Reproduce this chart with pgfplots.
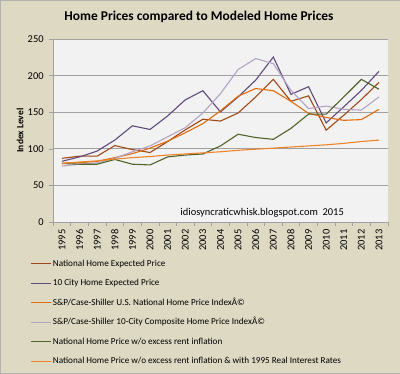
\documentclass[border=0pt]{standalone}
\usepackage{pgfplots}
\pgfplotsset{compat=1.18}
\usepackage{fontspec}
\setmainfont{Carlito}
\definecolor{bg}{RGB}{221,217,195}
\definecolor{plotbg}{RGB}{242,242,242}
\definecolor{gridc}{RGB}{160,160,160}
\definecolor{natexp}{RGB}{160,72,22}
\definecolor{cityexp}{RGB}{96,74,123}
\definecolor{spnat}{RGB}{228,108,10}
\definecolor{spcity}{RGB}{179,162,199}
\definecolor{greenc}{RGB}{79,98,40}
\definecolor{orange2}{RGB}{240,130,40}
\begin{document}
\begin{tikzpicture}
\fill[bg,draw=gray!60] (0,0) rectangle (400bp,373bp);
\node[font=\fontsize{13.5}{15}\selectfont\bfseries] at (199bp,356bp) {Home Prices compared to Modeled Home Prices};
\begin{axis}[
  at={(53bp,151bp)}, anchor=south west,
  width=335bp, height=183bp, scale only axis,
  xmin=-0.5, xmax=18.5, ymin=0, ymax=250,
  xtick={0,...,18},
  xticklabels={1995,1996,1997,1998,1999,2000,2001,2002,2003,2004,2005,2006,2007,2008,2009,2010,2011,2012,2013},
  minor xtick={-0.5,0.5,...,18.5},
  ytick={0,50,...,250},
  major x tick style={draw=none},
  tick align=outside,
  major tick length=4bp, minor tick length=4bp,
  tick style={gridc, line width=0.6pt},
  axis x line*=bottom, axis y line*=left,
  axis line style={gridc, line width=0.8pt},
  ymajorgrids, grid style={gridc, line width=0.8pt},
  axis background/.style={fill=plotbg},
  /pgf/number format/assume math mode=true,
  yticklabel style={font=\fontsize{10.5}{12}\selectfont, xshift=-2bp},
  xticklabel style={font=\fontsize{10.5}{12}\selectfont, rotate=90, anchor=east},
  ylabel={Index Level},
  every axis y label/.style={at={(axis description cs:-0.0985,0.5)}, rotate=90, anchor=center, font=\fontsize{9.5}{11}\selectfont\bfseries},
  legend style={at={(axis description cs:-0.0687,-0.195)}, anchor=north west, draw=none, fill=none,
     font=\fontsize{9.2}{10}\selectfont, row sep=7.5bp, inner sep=0pt,
     nodes={inner sep=1.5pt, text height=7bp, text depth=2bp}},
  legend cell align=left,
  legend image code/.code={\draw[#1, line width=1.1pt] (0bp,0bp) -- (20bp,0bp);},
  every axis plot/.append style={line width=1.1pt},
]
\addplot[natexp] coordinates {(0,87) (1,90) (2,90) (3,104.5) (4,99) (5,95) (6,110) (7,126) (8,140.5) (9,138) (10,149) (11,171) (12,195) (13,165) (14,172.5) (15,125.5) (16,146) (17,167.5) (18,191)};
\addlegendentry{National Home Expected Price}
\addplot[cityexp] coordinates {(0,83) (1,89) (2,97) (3,112) (4,131.5) (5,126.5) (6,145) (7,167) (8,179.5) (9,150.5) (10,171) (11,194) (12,225.5) (13,174.5) (14,185) (15,135.5) (16,157.5) (17,180) (18,206)};
\addlegendentry{10 City Home Expected Price}
\addplot[spnat] coordinates {(0,80.5) (1,81) (2,83) (3,88) (4,93.5) (5,101) (6,110.5) (7,122) (8,134.5) (9,152) (10,172) (11,182.5) (12,179.5) (13,165) (14,148.5) (15,143) (16,139) (17,140) (18,154)};
\addlegendentry{S\&P/Case-Shiller U.S. National Home Price IndexÂ©}
\addplot[spcity] coordinates {(0,76.5) (1,79) (2,81) (3,87) (4,96) (5,104) (6,116.5) (7,129) (8,149) (9,175.5) (10,208.5) (11,223.5) (12,216.5) (13,180) (14,155) (15,158.5) (16,154) (17,153) (18,171)};
\addlegendentry{S\&P/Case-Shiller 10-City Composite Home Price IndexÂ©}
\addplot[greenc] coordinates {(0,80) (1,79) (2,79) (3,85.5) (4,79) (5,78) (6,89) (7,91.5) (8,93) (9,104) (10,120) (11,115.5) (12,113) (13,128) (14,147.5) (15,147.5) (16,171) (17,195) (18,181.5)};
\addlegendentry{National Home Price w/o excess rent inflation}
\addplot[orange2] coordinates {(0,80) (1,82) (2,83.5) (3,86) (4,88) (5,89.5) (6,91.5) (7,93) (8,94.5) (9,96) (10,98) (11,99.5) (12,101) (13,102.5) (14,104) (15,105.5) (16,107.5) (17,110) (18,112)};
\addlegendentry{National Home Price w/o excess rent inflation \& with 1995 Real Interest Rates}
\node[anchor=west, font=\fontsize{10.5}{12}\selectfont] at (axis description cs:0.37,0.051) {idiosyncraticwhisk.blogspot.com\ \ 2015};
\end{axis}
\end{tikzpicture}
\end{document}
